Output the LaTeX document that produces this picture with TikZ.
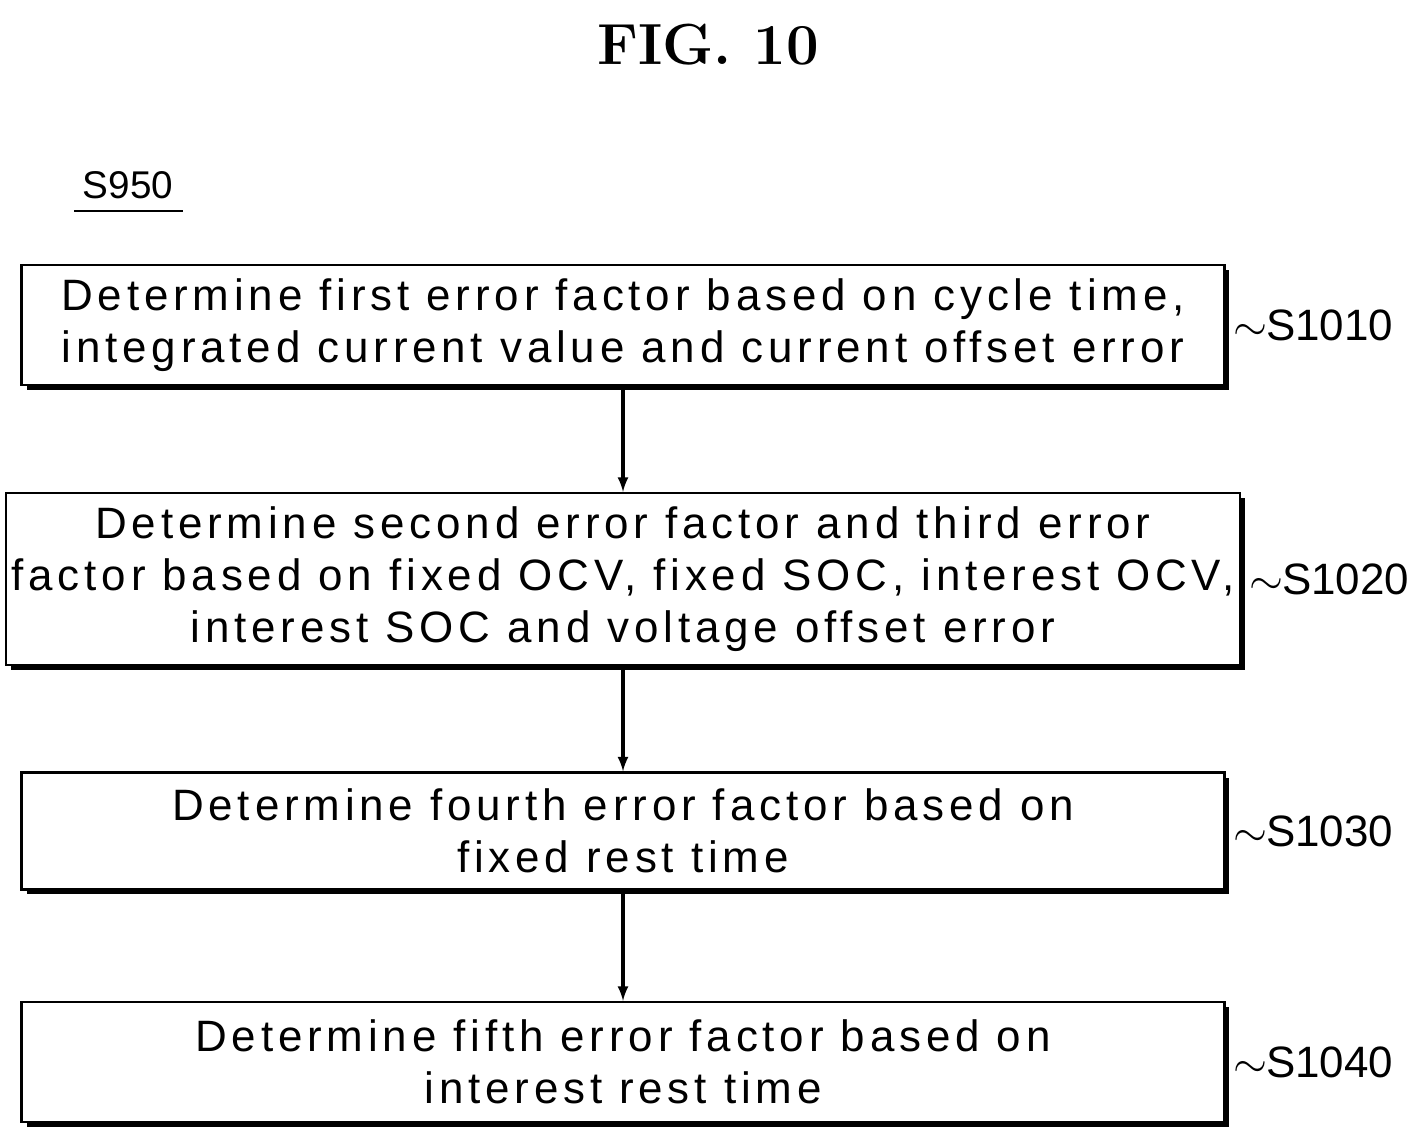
\documentclass[tikz,border=0pt]{standalone}
\usepackage{fontspec}
\setsansfont{Liberation Sans}[LetterSpace=11]
\newfontfamily\labelfont{Liberation Sans}
\usetikzlibrary{shadows}

\begin{document}
\begin{tikzpicture}[x=0.02cm,y=-0.02cm,>=latex]
	\tikzstyle{stepbox}=[draw,line width=1.4pt,minimum width=24.06cm,align=center,
		font=\sffamily\fontsize{25}{29.6}\selectfont,fill=white,
		drop shadow={shadow xshift=0.1cm,shadow yshift=-0.1cm,fill=black,opacity=1}]
	\tikzstyle{steplabel}=[anchor=west,font=\labelfont\fontsize{25}{29}\selectfont,inner sep=0pt]
	\tikzstyle{link}=[->,line width=1.8pt]
	\useasboundingbox (0,0) rectangle (1416,1148);
	
	% Title and reference
	\node[font=\bfseries\fontsize{33}{38}\selectfont] (title) at (708,45) {FIG. 10};
	\node[font=\labelfont\fontsize{22}{26}\selectfont] (ref) at (128,185) {S950};
	\draw[line width=1pt] (74,211) -- (183,211);
	
	% Steps
	\node[stepbox,minimum height=2.4cm] (s1) at (623,325) {Determine first error factor based on cycle time,\\integrated current value and current offset error};
	\node[stepbox,minimum height=3.44cm] (s2) at (623,579) {Determine second error factor and third error\\factor based on fixed OCV, fixed SOC, interest OCV,\\interest SOC and voltage offset error};
	\node[stepbox,minimum height=2.34cm] (s3) at (623,831) {Determine fourth error factor based on\\fixed rest time};
	\node[stepbox,minimum height=2.4cm] (s4) at (623,1062) {Determine fifth error factor based on\\interest rest time};
	
	% Step labels
	\foreach \name/\txt in {s1/S1010,s2/S1020,s3/S1030,s4/S1040}
	\node[steplabel] (l-\name) at ([xshift=0.16cm]\name.east) {$\sim$\kern-1pt\txt};
	
	% Connect steps
	\draw[link] (s1) -- (s2);
	\draw[link] (s2) -- (s3);
	\draw[link] (s3) -- (s4);
\end{tikzpicture}
\end{document}
